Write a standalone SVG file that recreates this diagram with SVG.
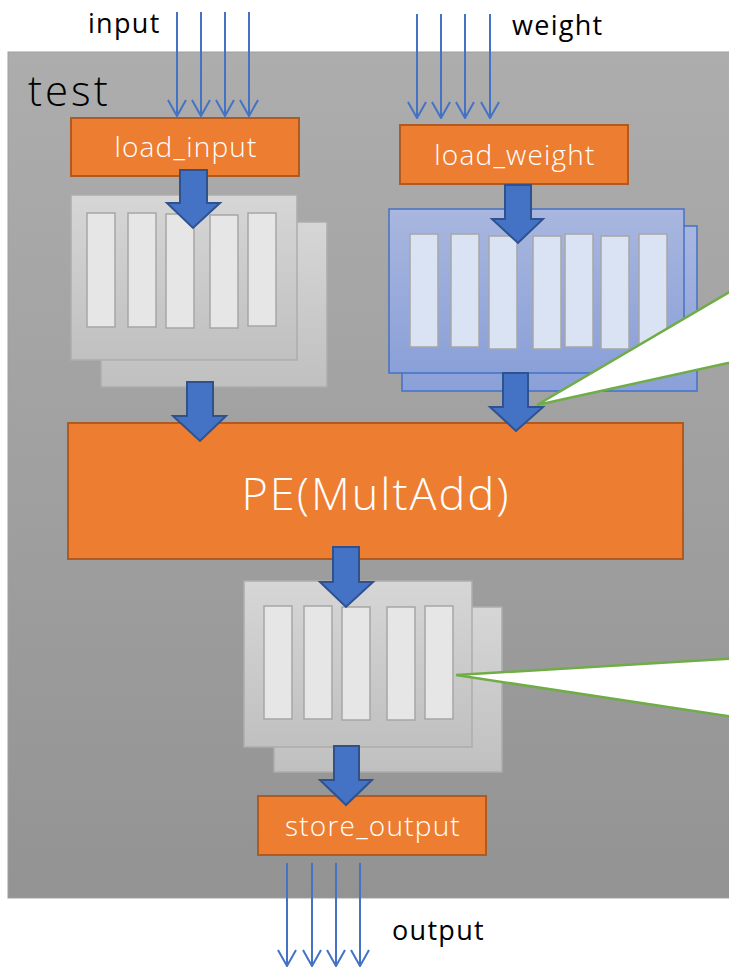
<svg xmlns="http://www.w3.org/2000/svg" width="729" height="968" viewBox="0 0 729 968">
  <defs>
    <linearGradient id="bgGrad" x1="0" y1="0" x2="0" y2="1">
      <stop offset="0" stop-color="#adadad"/>
      <stop offset="1" stop-color="#939393"/>
    </linearGradient>
    <linearGradient id="grayBuf" x1="0" y1="0" x2="0" y2="1">
      <stop offset="0" stop-color="#d6d6d6"/>
      <stop offset="1" stop-color="#c0c0c0"/>
    </linearGradient>
    <linearGradient id="blueBuf" x1="0" y1="0" x2="0" y2="1">
      <stop offset="0" stop-color="#a9b7df"/>
      <stop offset="1" stop-color="#8aa0d8"/>
    </linearGradient>
    <!-- open V arrowhead for the bus wires -->
    <marker id="vhead" viewBox="0 0 18 20" refX="17" refY="10" markerWidth="18" markerHeight="20" markerUnits="userSpaceOnUse" orient="auto">
      <path d="M1,1 L17,10 L1,19" fill="none" stroke="#4472c4" stroke-width="2"/>
    </marker>
  </defs>
  <style>
    .label { font-family: "Open Sans", "Noto Sans", "DejaVu Sans", sans-serif; font-weight: 300; }
    .outer { fill: #000000; font-size: 27px; letter-spacing: 1.3px; font-weight: 400; }
    .box { fill: #ed7d31; stroke: #ae5a21; stroke-width: 2; }
    .boxText { fill: #ffffff; font-size: 28px; letter-spacing: 1.2px; text-anchor: middle; }
    .bufGray { fill: url(#grayBuf); stroke: #adadad; stroke-width: 1.5; }
    .bufBlue { fill: url(#blueBuf); stroke: #4472c4; stroke-width: 1.5; }
    .barGray { fill: #e6e6e6; stroke: #a6a6a6; stroke-width: 1.5; }
    .barBlue { fill: #dae3f3; stroke: #a6a6a6; stroke-width: 1.5; }
    .wire { stroke: #4472c4; stroke-width: 2; fill: none; marker-end: url(#vhead); }
    .flow { fill: #4472c4; stroke: #2f528f; stroke-width: 2; stroke-linejoin: miter; }
    .callout { fill: #ffffff; stroke: #70ad47; stroke-width: 2.5; }
  </style>

  <!-- outer module frame -->
  <g id="test">
    <rect x="8" y="52" width="730" height="846" fill="url(#bgGrad)" stroke="#a0a0a0" stroke-width="1"/>
    <text class="label" x="28" y="106" font-size="42" font-weight="400" letter-spacing="3" fill="#000000">test</text>
  </g>

  <!-- external port labels -->
  <text class="label outer" x="88" y="33">input</text>
  <text class="label outer" x="512" y="35">weight</text>
  <text class="label outer" x="392" y="940">output</text>

  <!-- load_input stage -->
  <g id="load_input">
    <rect class="box" x="71" y="118" width="228" height="58"/>
    <text class="label boxText" x="186" y="157">load_input</text>
  </g>

  <!-- load_weight stage -->
  <g id="load_weight">
    <rect class="box" x="400" y="125" width="228" height="59"/>
    <text class="label boxText" x="515" y="165">load_weight</text>
  </g>

  <!-- input buffer -->
  <g id="input_buffer">
    <rect class="bufGray" x="101" y="222" width="226" height="165"/>
    <rect class="bufGray" x="71" y="195" width="226" height="165"/>
    <rect class="barGray" x="87" y="213" width="28" height="114"/>
    <rect class="barGray" x="128" y="213" width="28" height="114"/>
    <rect class="barGray" x="166" y="214" width="28" height="114"/>
    <rect class="barGray" x="210" y="215" width="28" height="113"/>
    <rect class="barGray" x="248" y="213" width="28" height="113"/>
  </g>

  <!-- weight buffer -->
  <g id="weight_buffer">
    <rect class="bufBlue" x="402" y="226" width="295" height="165"/>
    <rect class="bufBlue" x="389" y="209" width="295" height="164"/>
    <rect class="barBlue" x="410" y="234" width="28" height="113"/>
    <rect class="barBlue" x="451" y="234" width="28" height="113"/>
    <rect class="barBlue" x="489" y="236" width="28" height="113"/>
    <rect class="barBlue" x="533" y="236" width="28" height="113"/>
    <rect class="barBlue" x="565" y="234" width="28" height="113"/>
    <rect class="barBlue" x="601" y="236" width="28" height="113"/>
    <rect class="barBlue" x="639" y="234" width="28" height="113"/>
  </g>

  <!-- processing element -->
  <g id="pe">
    <rect class="box" x="68" y="423" width="615" height="136"/>
    <text class="label" x="376" y="510" font-size="45" letter-spacing="2" fill="#ffffff" text-anchor="middle">PE(MultAdd)</text>
  </g>

  <!-- output buffer -->
  <g id="output_buffer">
    <rect class="bufGray" x="274" y="607" width="228" height="165"/>
    <rect class="bufGray" x="244" y="581" width="228" height="166"/>
    <rect class="barGray" x="264" y="606" width="28" height="113"/>
    <rect class="barGray" x="304" y="606" width="28" height="113"/>
    <rect class="barGray" x="342" y="607" width="28" height="113"/>
    <rect class="barGray" x="387" y="607" width="28" height="113"/>
    <rect class="barGray" x="425" y="606" width="28" height="113"/>
  </g>

  <!-- store_output stage -->
  <g id="store_output">
    <rect class="box" x="258" y="796" width="228" height="59"/>
    <text class="label boxText" x="373" y="836">store_output</text>
  </g>

  <!-- callouts -->
  <g id="callout_weight">
    <polygon class="callout" points="537,405 760,274 760,356"/>
  </g>
  <g id="callout_output">
    <polygon class="callout" points="456,675 760,657 760,721"/>
  </g>

  <!-- connectors -->
  <g id="connectors">
    <!-- input bus -->
    <line class="wire" x1="177" y1="12" x2="177" y2="116"/>
    <line class="wire" x1="201" y1="12" x2="201" y2="116"/>
    <line class="wire" x1="225" y1="12" x2="225" y2="116"/>
    <line class="wire" x1="249" y1="12" x2="249" y2="116"/>
    <!-- weight bus -->
    <line class="wire" x1="417" y1="14" x2="417" y2="118"/>
    <line class="wire" x1="441" y1="14" x2="441" y2="118"/>
    <line class="wire" x1="465" y1="14" x2="465" y2="118"/>
    <line class="wire" x1="490" y1="14" x2="490" y2="118"/>
    <!-- output bus -->
    <line class="wire" x1="287" y1="863" x2="287" y2="966"/>
    <line class="wire" x1="312" y1="863" x2="312" y2="966"/>
    <line class="wire" x1="336" y1="863" x2="336" y2="966"/>
    <line class="wire" x1="360" y1="863" x2="360" y2="966"/>

    <!-- data flow block arrows -->
    <polygon class="flow" points="180,170 207,170 207,203 220,203 193,228 167,203 180,203"/>
    <polygon class="flow" points="505,185 531,185 531,219 543,219 518,243 492,219 505,219"/>
    <polygon class="flow" points="187,382 213,382 213,416 226,416 200,441 173,416 187,416"/>
    <polygon class="flow" points="503,373 528,373 528,407 543,407 516,431 490,407 503,407"/>
    <polygon class="flow" points="333,547 359,547 359,582 373,582 346,607 320,582 333,582"/>
    <polygon class="flow" points="334,746 359,746 359,780 372,780 346,805 320,780 334,780"/>
  </g>
</svg>
